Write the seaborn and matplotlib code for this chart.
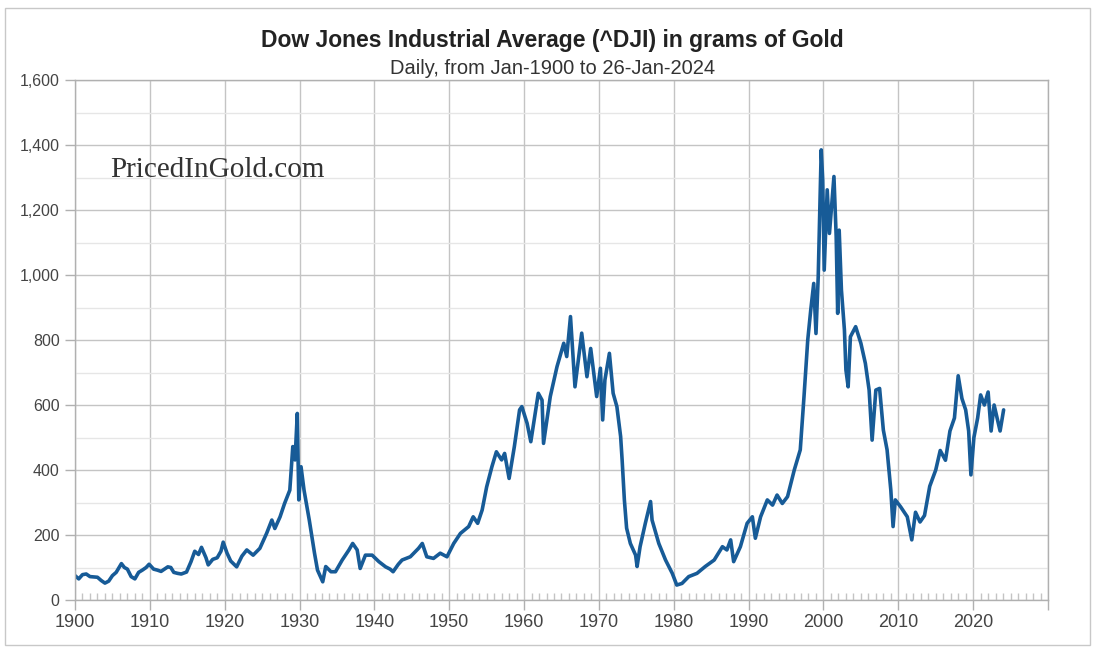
import matplotlib
matplotlib.use("Agg")
import matplotlib.pyplot as plt
from matplotlib.patches import Rectangle
from matplotlib.ticker import MultipleLocator, FuncFormatter
import numpy as np
import pandas as pd
import seaborn as sns

# DJIA priced in grams of gold
years = [
    1900.0, 1900.5, 1901.0, 1901.5, 1902.0, 1903.0, 1903.5, 1904.0, 1904.5, 1905.0,
    1905.5, 1906.2, 1906.6, 1907.0, 1907.5, 1908.0, 1908.5, 1909.0, 1909.5, 1909.9,
    1910.5, 1911.0, 1911.5, 1912.4, 1912.8, 1913.2, 1913.7, 1914.2, 1914.9, 1915.5,
    1916.0, 1916.5, 1916.9, 1917.5, 1917.8, 1918.4, 1919.0, 1919.5, 1919.8, 1920.3,
    1920.8, 1921.6, 1922.3, 1922.95, 1923.8, 1924.7, 1925.6, 1926.3, 1926.7, 1927.4,
    1928.0, 1928.7, 1929.1, 1929.4, 1929.7, 1929.9, 1930.2, 1930.6, 1931.3, 1932.0,
    1932.4, 1933.1, 1933.5, 1934.2, 1934.8, 1935.7, 1936.6, 1937.1, 1937.7, 1938.1,
    1938.8, 1939.7, 1940.6, 1941.5, 1942.1, 1942.5, 1943.2, 1943.7, 1944.8, 1945.9,
    1946.4, 1947.0, 1947.9, 1948.8, 1949.7, 1950.6, 1951.5, 1952.6, 1953.2, 1953.8,
    1954.4, 1955.0, 1955.7, 1956.3, 1957.0, 1957.4, 1958.0, 1958.7, 1959.4, 1959.7,
    1960.4, 1960.9, 1961.9, 1962.4, 1962.6, 1963.5, 1964.4, 1965.3, 1965.7, 1966.2,
    1966.8, 1967.7, 1968.4, 1968.9, 1969.7, 1970.2, 1970.5, 1970.8, 1971.4, 1971.9,
    1972.4, 1972.9, 1973.1, 1973.4, 1973.7, 1974.2, 1974.9, 1975.1, 1975.5, 1976.2,
    1976.9, 1977.1, 1978.0, 1978.9, 1979.8, 1980.4, 1981.1, 1982.0, 1983.1, 1984.2,
    1985.4, 1986.5, 1987.1, 1987.6, 1988.0, 1988.9, 1989.8, 1990.5, 1990.9, 1991.6,
    1992.5, 1993.2, 1993.8, 1994.5, 1995.2, 1996.1, 1996.9, 1997.4, 1997.9, 1998.3,
    1998.7, 1999.0, 1999.3, 1999.7, 1999.9, 2000.1, 2000.5, 2000.8, 2001.4, 2001.7,
    2001.9, 2002.1, 2002.4, 2002.8, 2003.0, 2003.3, 2003.6, 2004.3, 2005.0, 2005.6,
    2006.1, 2006.5, 2007.0, 2007.5, 2008.0, 2008.5, 2009.0, 2009.3, 2009.6, 2010.3,
    2011.2, 2011.8, 2012.3, 2012.9, 2013.5, 2014.2, 2015.0, 2015.6, 2016.3, 2016.9,
    2017.5, 2018.0, 2018.5, 2019.0, 2019.4, 2019.7, 2020.1, 2020.6, 2021.0, 2021.5,
    2022.0, 2022.4, 2022.8, 2023.2, 2023.6, 2024.07,
]
grams_gold = [
    75, 65, 78, 80, 72, 70, 60, 52, 58, 75,
    85, 112, 100, 95, 72, 65, 85, 92, 100, 110,
    95, 92, 88, 102, 100, 85, 82, 80, 86, 118,
    150, 140, 162, 130, 108, 125, 130, 150, 178, 145,
    120, 102, 135, 154, 138, 159, 205, 246, 220, 256,
    297, 338, 472, 431, 574, 308, 410, 338, 246, 144,
    92, 56, 103, 87, 87, 123, 154, 174, 154, 97,
    138, 138, 118, 102, 95, 87, 110, 123, 133, 159,
    174, 133, 128, 144, 133, 174, 205, 226, 256, 236,
    277, 348, 410, 456, 431, 451, 374, 472, 585, 595,
    544, 487, 636, 615, 482, 626, 718, 790, 749, 872,
    656, 821, 687, 774, 626, 713, 554, 677, 759, 636,
    595, 503, 431, 308, 221, 174, 138, 103, 164, 236,
    303, 246, 174, 123, 82, 46, 51, 72, 82, 103,
    123, 164, 154, 185, 118, 164, 236, 256, 190, 256,
    308, 292, 323, 297, 318, 400, 462, 626, 800, 892,
    974, 820, 995, 1385, 1292, 1015, 1262, 1128, 1303, 1118,
    882, 1138, 954, 831, 708, 656, 810, 841, 790, 728,
    646, 492, 646, 651, 523, 462, 338, 226, 308, 287,
    256, 185, 270, 240, 260, 350, 400, 460, 430, 520,
    560, 690, 620, 585, 520, 385, 500, 560, 631, 600,
    640, 520, 600, 560, 520, 585,
]

df = pd.DataFrame({"year": years, "grams": grams_gold})

sns.set_theme(style="white")
plt.rcParams["font.family"] = ["Liberation Sans", "DejaVu Sans"]

fig = plt.figure(figsize=(11, 6.54), dpi=100)
ax = fig.add_axes([75 / 1100, 1 - 600 / 654, (1048 - 75) / 1100, (600 - 80) / 654])

sns.lineplot(data=df, x="year", y="grams", ax=ax, color="#175b97", linewidth=2.6)

ax.set_xlim(1900, 2030)
ax.set_ylim(0, 1600)
ax.xaxis.set_major_locator(MultipleLocator(10))
ax.xaxis.set_minor_locator(MultipleLocator(1))
ax.yaxis.set_major_locator(MultipleLocator(200))
ax.yaxis.set_minor_locator(MultipleLocator(100))
ax.xaxis.set_major_formatter(FuncFormatter(lambda v, p: "" if v > 2020 else f"{int(v)}"))
ax.yaxis.set_major_formatter(FuncFormatter(lambda v, p: f"{int(v):,}"))

ax.grid(which="major", color="#c4c4c4", linewidth=1.0)
ax.grid(which="minor", axis="y", color="#e6e6e6", linewidth=1.0)
ax.set_axisbelow(True)
for s in ax.spines.values():
    s.set_color("#b0b0b0")
    s.set_linewidth(1.0)

ax.tick_params(axis="both", which="major", labelcolor="#444444",
               color="#b0b0b0", length=7, width=1, bottom=True, left=True)
ax.tick_params(axis="x", which="major", labelsize=13, pad=3)
ax.tick_params(axis="y", which="major", labelsize=11.5, pad=4)
ax.tick_params(axis="x", which="minor", direction="in", length=5, color="#c4c4c4",
               bottom=True)
ax.set_xlabel("")
ax.set_ylabel("")

fig.text(0.502, 1 - 40 / 654, "Dow Jones Industrial Average (^DJI) in grams of Gold",
         ha="center", va="center", fontsize=16.5, fontweight="bold", color="#222222")
fig.text(0.502, 1 - 68 / 654, "Daily, from Jan-1900 to 26-Jan-2024",
         ha="center", va="center", fontsize=14.5, color="#333333")
fig.text(110 / 1100, 1 - 170 / 654, "PricedInGold.com", ha="left", va="center",
         fontsize=21, color="#333333", family=["Liberation Serif", "DejaVu Serif"])

fig.patches.append(Rectangle((5 / 1100, 1 - 645 / 654), 1085 / 1100, 637 / 654,
                             transform=fig.transFigure, fill=False,
                             edgecolor="#c8c8c8", linewidth=1.0))

fig.savefig("out.png", dpi=100)
